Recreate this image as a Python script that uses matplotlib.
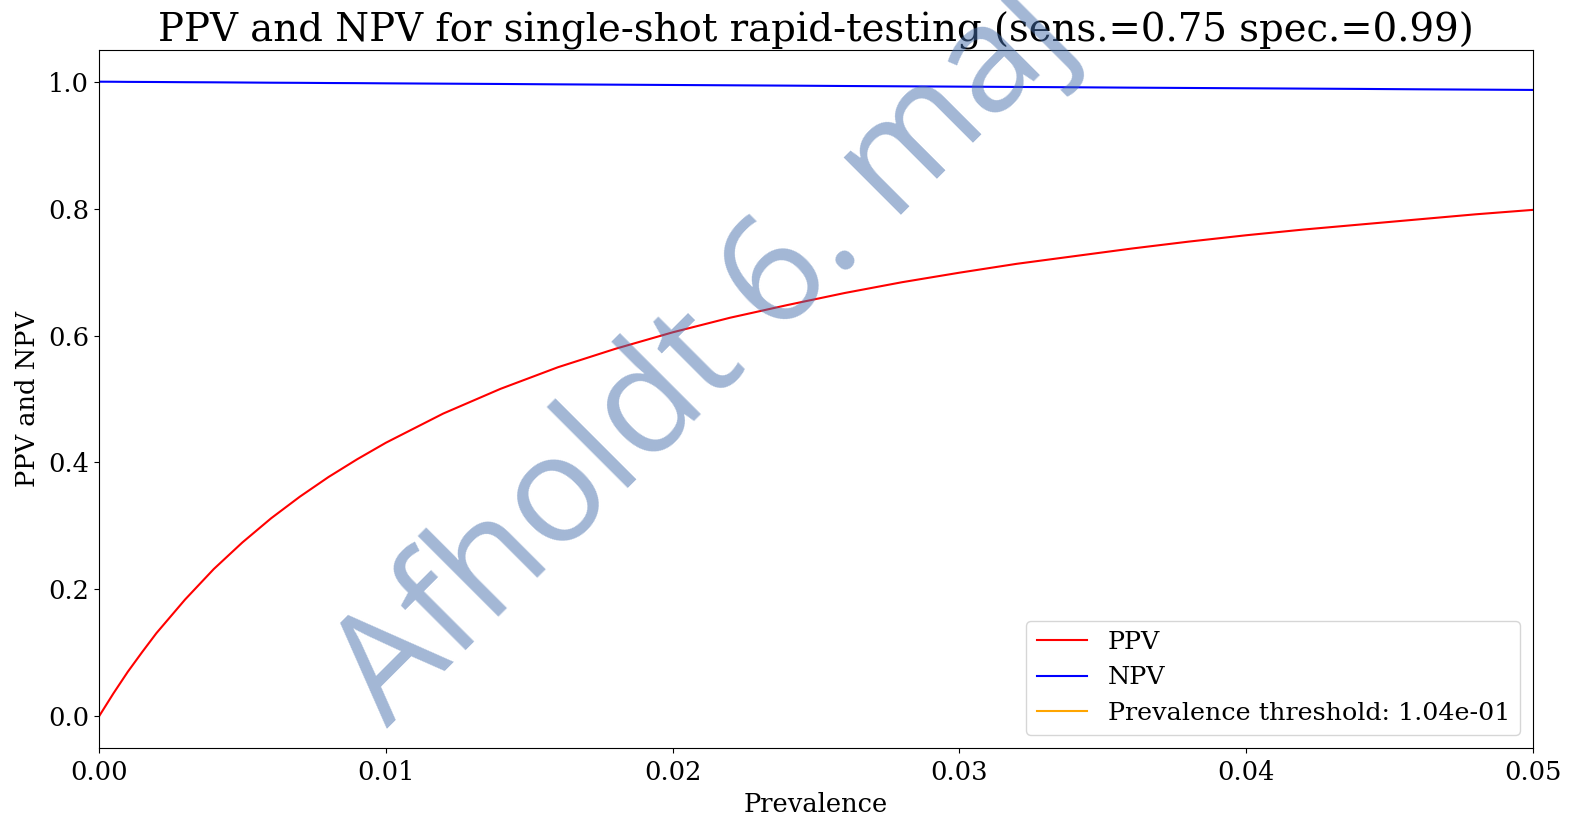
import matplotlib
matplotlib.use("agg")
from matplotlib import pyplot as plt

# values
prevalence = [0.0, 0.0005, 0.001, 0.0015, 0.002, 0.003, 0.004, 0.005, 0.006,
              0.007, 0.008, 0.009, 0.010, 0.012, 0.014, 0.016, 0.018, 0.020,
              0.022, 0.024, 0.026, 0.028, 0.030, 0.032, 0.034, 0.036, 0.038,
              0.040, 0.042, 0.044, 0.046, 0.048, 0.050]
ppv = [0.0, 0.036, 0.070, 0.101, 0.131, 0.184, 0.232, 0.274, 0.312,
       0.346, 0.377, 0.405, 0.431, 0.477, 0.516, 0.550, 0.579, 0.605,
       0.628, 0.648, 0.667, 0.684, 0.699, 0.713, 0.725, 0.737, 0.748,
       0.758, 0.767, 0.775, 0.783, 0.791, 0.798]
npv = [1.0, 0.9999, 0.9997, 0.9996, 0.9995, 0.9992, 0.9990, 0.9987, 0.9984,
       0.9982, 0.9979, 0.9977, 0.9974, 0.9969, 0.9964, 0.9958, 0.9953, 0.9948,
       0.9943, 0.9938, 0.9932, 0.9927, 0.9922, 0.9917, 0.9912, 0.9906, 0.9901,
       0.9896, 0.9891, 0.9886, 0.9880, 0.9875, 0.9870]
threshold = 0.104

plt.rcParams["font.family"] = "DejaVu Serif"
plt.rcParams["font.size"] = 18.5

fig = plt.figure(figsize=(15.75, 8.19), dpi=100)
ax = fig.add_axes([0.0629, 0.0867, 0.9104, 0.8523])

ax.plot(prevalence, ppv, color="red", lw=1.5, label="PPV")
ax.plot(prevalence, npv, color="blue", lw=1.5, label="NPV")
ax.axvline(threshold, color="orange", lw=1.5,
           label="Prevalence threshold: %.2e" % threshold)

ax.set_xlim(0, 0.05)
ax.set_ylim(-0.05, 1.05)
ax.set_xticks([0.0, 0.01, 0.02, 0.03, 0.04, 0.05])
ax.set_xticklabels(["0.00", "0.01", "0.02", "0.03", "0.04", "0.05"])
ax.set_yticks([0.0, 0.2, 0.4, 0.6, 0.8, 1.0])
ax.tick_params(axis="x", pad=5.5)
ax.set_xlabel("Prevalence", labelpad=5)
ax.set_ylabel("PPV and NPV", labelpad=6)
ax.set_title("PPV and NPV for single-shot rapid-testing (sens.=0.75 spec.=0.99)",
             fontsize=27.8, pad=6)
ax.legend(loc="lower right", fontsize=18.3)

# watermark laid over the chart
fig.text(0.447, 0.565, "Afholdt 6. maj", fontsize=108, family="Open Sans",
         rotation=45, rotation_mode="anchor", ha="center", va="center",
         color="#466fac", alpha=0.5, zorder=10)

fig.savefig("out.png", format="png")
